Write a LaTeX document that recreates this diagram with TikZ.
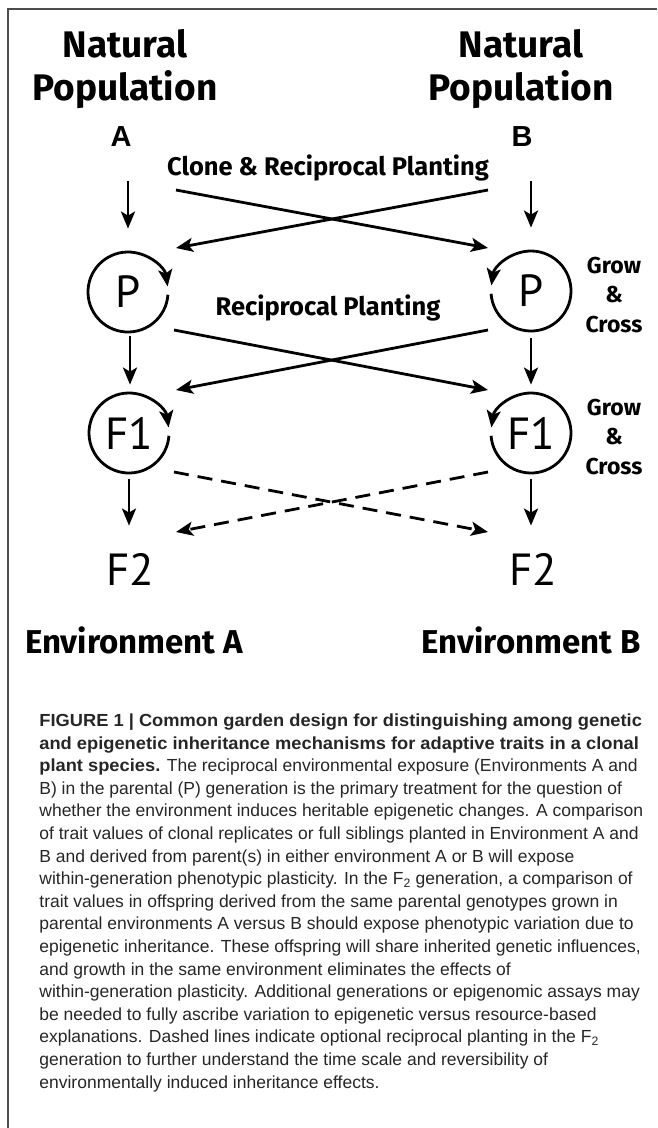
\documentclass[tikz,border=0pt]{standalone}
\usepackage{fontspec}
\setmainfont{Liberation Sans}
\newfontfamily\headfont{Fira Sans}
\newfontfamily\genfont{PT Sans}
\newfontfamily\capfont[BoldFeatures={FakeStretch=1.045}]{Liberation Sans}
\usepackage{tikz}
\usetikzlibrary{arrows.meta}
\tikzset{>={Stealth[length=17pt,width=14pt,inset=4pt]}}
\tikzstyle{bighead}=[inner sep=0, align=center, font=\headfont\bfseries\fontsize{37}{43}\selectfont]
\tikzstyle{midhead}=[inner sep=0, align=center, font=\headfont\bfseries\fontsize{25.5}{29.5}\selectfont]
\tikzstyle{smallhead}=[inner sep=0, align=center, font=\headfont\bfseries\fontsize{23}{29.3}\selectfont]
\tikzstyle{envhead}=[inner sep=0, font=\headfont\bfseries\fontsize{33}{33}\selectfont]
\tikzstyle{gen}=[inner sep=0, font=\genfont\fontsize{45}{45}\selectfont]
\tikzstyle{popletter}=[inner sep=0, font=\bfseries\fontsize{29}{29}\selectfont]
\tikzstyle{dashcross}=[->, dash pattern=on 15pt off 9pt]
% circle with a clockwise / anticlockwise arrow round a generation
\newcommand{\cycright}[1]{\draw[->] ([shift={(-4:40)}]#1.center) arc[start angle=-4, end angle=-352, radius=40];}
\newcommand{\cycleft}[1]{\draw[->] ([shift={(184:40)}]#1.center) arc[start angle=184, end angle=532, radius=40];}

\begin{document}
\begin{tikzpicture}[x=1pt, y=1pt, line width=2.8]
	\useasboundingbox (0,0) rectangle (657,-1128);
	
	% Frame
	\draw[line width=1.5, black!70] (8,-1128) -- (8,-9) -- (657,-9);
	
	% Populations
	\node[bighead, anchor=base] (natA) at (125,-100) {Natural\\Population};
	\node[bighead, anchor=base] (natB) at (521,-100) {Natural\\Population};
	\node[popletter, anchor=base] (labA) at (121,-146) {A};
	\node[popletter, anchor=base] (labB) at (522,-146) {B};
	
	% Generations
	\node[gen, minimum size=80] (pA) at (128,-292) {P};
	\node[gen, minimum size=80] (pB) at (531,-291) {P};
	\node[gen, minimum size=80] (f1A) at (129,-433) {F1};
	\node[gen, minimum size=80] (f1B) at (531,-433) {F1};
	\node[gen, anchor=base] (f2A) at (130,-585) {F2};
	\node[gen, anchor=base] (f2B) at (533,-585) {F2};
	\cycright{pA}
	\cycleft{pB}
	\cycright{f1A}
	\cycleft{f1B}
	
	% Labels
	\node[midhead, anchor=base] (clone) at (328,-175) {Clone \& Reciprocal Planting};
	\node[midhead, anchor=base] (recip) at (328,-315) {Reciprocal Planting};
	\node[smallhead, anchor=base] (grow1) at (614,-332) {Grow\\\&\\Cross};
	\node[smallhead, anchor=base] (grow2) at (614,-474) {Grow\\\&\\Cross};
	\node[envhead, anchor=base] (envA) at (134,-653) {Environment A};
	\node[envhead, anchor=base] (envB) at (531,-653) {Environment B};
	
	% Straight arrows
	\draw[->] ([yshift=-34]labA.south -| pA) -- ([yshift=22]pA.north);
	\draw[->] ([yshift=-34]labB.south -| pB) -- ([yshift=22]pB.north);
	\draw[->, shorten <=3, shorten >=7] ([xshift=2]pA.south) -- ([xshift=1]f1A.north);
	\draw[->, shorten <=6, shorten >=7] (pB.south) -- (f1B.north);
	\draw[->, shorten <=5, shorten >=26] (f1A.south) -- (f1A.south |- f2A.north);
	\draw[->, shorten <=5, shorten >=26] (f1B.south) -- (f1B.south |- f2B.north);
	
	% Crossing arrows
	\coordinate (c1) at (176,-190); \coordinate (c2) at (488,-248);
	\coordinate (c3) at (488,-190); \coordinate (c4) at (176,-248);
	\draw[->] (c1) -- (c2);
	\draw[->] (c3) -- (c4);
	\coordinate (r1) at (174,-330); \coordinate (r2) at (488,-390);
	\coordinate (r3) at (488,-330); \coordinate (r4) at (176,-390);
	\draw[->] (r1) -- (r2);
	\draw[->] (r3) -- (r4);
	\coordinate (d1) at (174,-472); \coordinate (d2) at (488,-532);
	\coordinate (d3) at (488,-472); \coordinate (d4) at (176,-532);
	\draw[dashcross] (d1) -- (d2);
	\draw[dashcross] (d3) -- (d4);
	
	% Caption
	\node[anchor=base west, align=left, inner sep=0, text=black!85,
		font=\capfont\fontsize{17.5}{22.6}\selectfont] (caption) at (38,-1088) {%
		\textbf{FIGURE 1 | Common garden design for distinguishing among genetic}\\
		\textbf{and epigenetic inheritance mechanisms for adaptive traits in a clonal}\\
		\textbf{plant species.} The reciprocal environmental exposure (Environments A and\\
		B) in the parental (P) generation is the primary treatment for the question of\\
		whether the environment induces heritable epigenetic changes. A comparison\\
		of trait values of clonal replicates or full siblings planted in Environment A and\\
		B and derived from parent(s) in either environment A or B will expose\\
		within-generation phenotypic plasticity. In the F\textsubscript{2} generation, a comparison of\\
		trait values in offspring derived from the same parental genotypes grown in\\
		parental environments A versus B should expose phenotypic variation due to\\
		epigenetic inheritance. These offspring will share inherited genetic influences,\\
		and growth in the same environment eliminates the effects of\\
		within-generation plasticity. Additional generations or epigenomic assays may\\
		be needed to fully ascribe variation to epigenetic versus resource-based\\
		explanations. Dashed lines indicate optional reciprocal planting in the F\textsubscript{2}\\
		generation to further understand the time scale and reversibility of\\
		environmentally induced inheritance effects.};
\end{tikzpicture}
\end{document}
